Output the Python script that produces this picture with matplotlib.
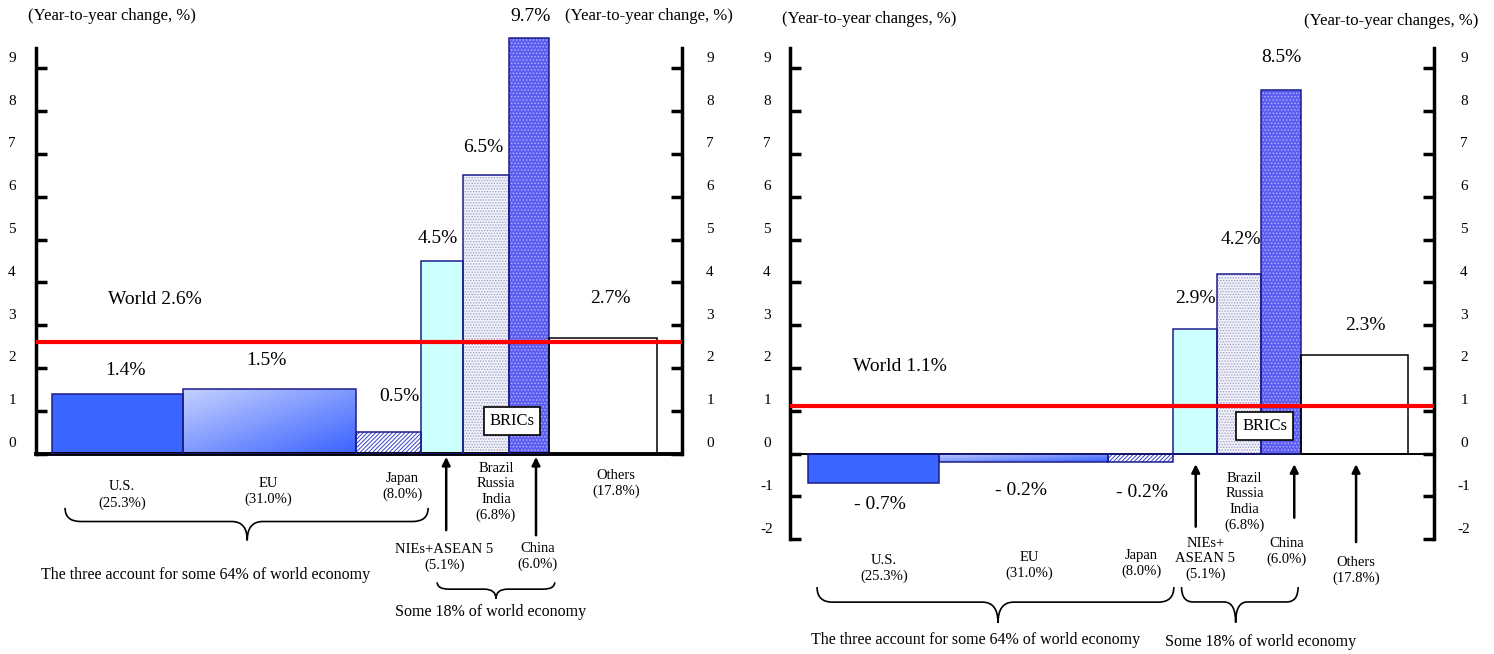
import numpy as np
import matplotlib
matplotlib.use('Agg')
import matplotlib.pyplot as plt
from matplotlib.colors import LinearSegmentedColormap
from matplotlib.path import Path
from matplotlib.patches import PathPatch
from matplotlib.transforms import ScaledTranslation

plt.rcParams['font.family'] = ['Liberation Serif', 'DejaVu Serif']
plt.rcParams['axes.unicode_minus'] = False
plt.rcParams['hatch.linewidth'] = 0.7

# Growth by region (y/y %) and share of world economy
shares = [25.3, 31.0, 8.0, 5.1, 6.8, 6.0, 17.8]
names_left = ['U.S.', 'EU', 'Japan', 'NIEs+ASEAN 5', 'Brazil\nRussia\nIndia', 'China', 'Others']
names_right = ['U.S.', 'EU', 'Japan', 'NIEs+\nASEAN 5', 'Brazil\nRussia\nIndia', 'China', 'Others']
growth_left = [1.4, 1.5, 0.5, 4.5, 6.5, 9.7, 2.7]
growth_right = [-0.7, -0.2, -0.2, 2.9, 4.2, 8.5, 2.3]
world_left = 2.6
world_right = 1.1
yticks_left = list(range(0, 10))
yticks_right = list(range(-2, 10))

# layout (x in 0-100 axis units, y in data units)
W, H = 1494, 654
PX = 42.8  # pixels per percentage point
ZERO_Y = 453.5
edges_left = [2.5, 22.8, 49.5, 59.6, 66.1, 73.2, 79.4, 96.1]
edges_right = [2.8, 23.1, 49.4, 59.4, 66.3, 73.1, 79.4, 96.0]
val_pos_left = [(13.8, 1.93), (35.6, 2.18), (56.3, 1.34), (62.2, 5.03), (69.2, 7.16), (76.5, 10.22), (88.9, 3.63)]
val_pos_right = [(13.9, -1.2), (35.8, -0.87), (54.6, -0.92), (63.0, 3.63), (70.0, 4.99), (76.3, 9.26), (89.3, 3.0)]
cat_pos_left = [(13.3, -0.97), (35.9, -0.88), (56.7, -0.78), (63.2, -2.44), (71.2, -0.90), (77.7, -2.41), (89.8, -0.71)]
cat_pos_right = [(14.6, -2.68), (37.2, -2.61), (54.6, -2.58), (64.5, -2.46), (70.6, -1.13), (77.1, -2.30), (87.9, -2.74)]

NAVY = '#1c1c8c'
styles = [
    dict(kind='solid', fc='#3a66ff', ec=NAVY),
    dict(kind='gradient', ec=NAVY),
    dict(kind='hatch', fc='white', hc='#3344cc', hatch='////////', ec=NAVY),
    dict(kind='solid', fc='#ccffff', ec=NAVY),
    dict(kind='hatch', fc='#f2f2fa', hc='#a0a0c8', hatch='......', ec=NAVY),
    dict(kind='hatch', fc='#5c5cf0', hc='#aab0ff', hatch='.....', ec=NAVY),
    dict(kind='solid', fc='white', ec='black'),
]
eu_cmap = LinearSegmentedColormap.from_list('eu', ['#c4d0ff', '#3a62ff'])


def pct(v):
    return f'- {abs(v):.1f}%' if v < 0 else f'{v:.1f}%'


def draw_bars(ax, edges, values):
    for i, v in enumerate(values):
        x0, w = edges[i], edges[i + 1] - edges[i]
        st = styles[i]
        if st['kind'] == 'solid':
            ax.bar(x0, v, w, align='edge', color=st['fc'], lw=0, zorder=2)
        elif st['kind'] == 'hatch':
            ax.bar(x0, v, w, align='edge', color=st['fc'], edgecolor=st['hc'],
                   hatch=st['hatch'], lw=0, zorder=2)
        outline = ax.bar(x0, v, w, align='edge', fill=False, edgecolor=st['ec'], lw=1.1, zorder=3)[0]
        if st['kind'] == 'gradient':
            g = np.linspace(0, 1, 64)
            gx, gy = np.meshgrid(g, g)
            im = ax.imshow((gx + gy) / 2, cmap=eu_cmap, origin='upper', aspect='auto',
                           extent=(x0, x0 + w, min(0, v), max(0, v)), zorder=2)
            im.set_clip_path(outline)


def brace(ax, x0, x1, xtip, ytop, ytip, r=2.4):
    ymid = ytop + 0.42 * (ytip - ytop)
    verts = [(x0, ytop), (x0, ymid), (x0 + r, ymid), (xtip - r, ymid),
             (xtip, ymid), (xtip, ytip), (xtip, ymid), (xtip + r, ymid),
             (x1 - r, ymid), (x1, ymid), (x1, ytop)]
    codes = [Path.MOVETO, Path.CURVE3, Path.CURVE3, Path.LINETO,
             Path.CURVE3, Path.CURVE3, Path.CURVE3, Path.CURVE3,
             Path.LINETO, Path.CURVE3, Path.CURVE3]
    ax.add_patch(PathPatch(Path(verts, codes), fill=False, lw=1.2, color='black', clip_on=False))


def arrow(ax, x, y0, y1):
    ax.annotate('', xy=(x, y1), xytext=(x, y0), annotation_clip=False,
                arrowprops=dict(arrowstyle='-|>', color='black', lw=1.8,
                                mutation_scale=12, shrinkA=0, shrinkB=0))


def setup_axes(ax, ymin, ticks, lab_dx_left, lab_dx_right):
    ax.set_xlim(0, 100)
    ax.set_ylim(ymin, 9.75)
    ax.set_xticks([])
    ax.set_yticks(ticks)
    ax.tick_params(axis='y', which='both', direction='in', length=8, width=2.5,
                   left=True, right=True, labelleft=False, labelright=False)
    ax.spines['top'].set_visible(False)
    for side in ('left', 'right'):
        ax.spines[side].set_linewidth(2.5)
        ax.spines[side].set_bounds(ymin, 9.47)
    ax.patch.set_alpha(0)
    tr = ax.get_yaxis_transform()
    for t in ticks:
        ax.text(0, t, str(t), fontsize=11, ha='center', va='center',
                transform=tr + ScaledTranslation(lab_dx_left / 100, 0.10, fig.dpi_scale_trans))
        ax.text(1, t, str(t), fontsize=11, ha='center', va='center',
                transform=tr + ScaledTranslation(lab_dx_right / 100, 0.10, fig.dpi_scale_trans))


fig = plt.figure(figsize=(W / 100, H / 100), dpi=100)

# left panel
top_px = ZERO_Y - 9.75 * PX
axL = fig.add_axes([36 / W, 1 - ZERO_Y / H, 646 / W, (ZERO_Y - top_px) / H])
setup_axes(axL, 0, yticks_left, -24, 28)
axL.spines['bottom'].set_linewidth(2.8)
draw_bars(axL, edges_left, growth_left)
axL.axhline(world_left, color='#ff0000', lw=3, zorder=4)
axL.text(11.1, 3.59, f'World {world_left}%', fontsize=14, ha='left', va='center')
for (x, y), v in zip(val_pos_left, growth_left):
    axL.text(x, y, pct(v), fontsize=14, ha='center', va='center', clip_on=False)
for (x, y), n, s in zip(cat_pos_left, names_left, shares):
    axL.text(x, y, f'{n}\n({s:.1f}%)', fontsize=10.5, ha='center', va='center',
             linespacing=1.25, clip_on=False)
axL.text(73.7, 0.76, 'BRICs', fontsize=12, ha='center', va='center', zorder=5,
         bbox=dict(boxstyle='square,pad=0.35', fc='white', ec='black', lw=1.2))
arrow(axL, 63.5, -1.79, -0.08)
arrow(axL, 77.4, -1.91, -0.08)
brace(axL, 4.5, 60.7, 32.7, -1.27, -2.03)
brace(axL, 62.1, 80.3, 71.2, -3.01, -3.39, r=1.8)
axL.text(26.3, -2.84, 'The three account for some 64% of world economy', fontsize=11.5,
         ha='center', va='center')
axL.text(70.3, -3.70, 'Some 18% of world economy', fontsize=11.5, ha='center', va='center')

# right panel
bot_px = ZERO_Y + 2 * PX
axR = fig.add_axes([790 / W, 1 - bot_px / H, 644 / W, (bot_px - top_px) / H])
setup_axes(axR, -2, yticks_right, -23, 30)
axR.spines['bottom'].set_visible(False)
axR.axhline(0, color='black', lw=1.4, zorder=3)
draw_bars(axR, edges_right, growth_right)
axR.axhline(world_right, color='#ff0000', lw=3, zorder=4)
axR.text(9.75, 2.04, f'World {world_right}%', fontsize=14, ha='left', va='center')
for (x, y), v in zip(val_pos_right, growth_right):
    axR.text(x, y, pct(v), fontsize=14, ha='center', va='center', clip_on=False)
for (x, y), n, s in zip(cat_pos_right, names_right, shares):
    axR.text(x, y, f'{n}\n({s:.1f}%)', fontsize=10.5, ha='center', va='center',
             linespacing=1.25, clip_on=False)
axR.text(73.7, 0.64, 'BRICs', fontsize=12, ha='center', va='center', zorder=5,
         bbox=dict(boxstyle='square,pad=0.35', fc='white', ec='black', lw=1.2))
arrow(axR, 63.0, -1.71, -0.25)
arrow(axR, 78.3, -1.50, -0.25)
arrow(axR, 87.9, -2.07, -0.25)
brace(axR, 4.2, 59.6, 32.3, -3.12, -3.96)
brace(axR, 60.8, 78.9, 69.2, -3.12, -3.95, r=1.8)
axR.text(28.8, -4.36, 'The three account for some 64% of world economy', fontsize=11.5,
         ha='center', va='center')
axR.text(73.1, -4.40, 'Some 18% of world economy', fontsize=11.5, ha='center', va='center')

# axis unit captions
fig.text(28 / W, 1 - 16 / H, '(Year-to-year change, %)', fontsize=12, ha='left', va='center')
fig.text(733 / W, 1 - 16 / H, '(Year-to-year change, %)', fontsize=12, ha='right', va='center')
fig.text(782 / W, 1 - 19 / H, '(Year-to-year changes, %)', fontsize=12, ha='left', va='center')
fig.text(1478 / W, 1 - 21 / H, '(Year-to-year changes, %)', fontsize=12, ha='right', va='center')

fig.savefig('out.png', dpi=100)
